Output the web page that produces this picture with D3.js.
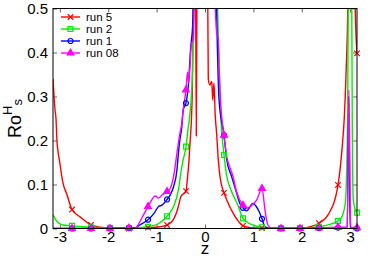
<!DOCTYPE html>
<html lang="en">
<head>
    <meta charset="UTF-8">
    <title>Ro^H_s vs z</title>
    <script src="https://d3js.org/d3.v7.min.js"></script>
    <style>
        body { margin: 0; background: #fff; }
        svg { display: block; font-family: "Liberation Sans", Arial, sans-serif; }
    </style>
</head>
<body>
    <svg id="chart" width="370" height="257"></svg>

    <script>
        // series names + colours
        const seriesNames = ["run 5", "run 2", "run 1", "run 08"];
        const seriesColors = ["#ff0000", "#00ee00", "#0000ff", "#ff00ff"];

        // marker positions (every pi/8)
        const markerZ = [-2.749, -2.356, -1.963, -1.571, -1.178, -0.785, -0.393, 0,
                         0.393, 0.785, 1.178, 1.571, 1.963, 2.356, 2.749, 3.142];

        const run5Marks = [0.043, 0.008, 0.001, 0.0, 0.002, 0.008, 0.085, 1.0,
                           0.081, 0.006, 0.001, 0.0, 0.001, 0.012, 0.099, 0.398];
        const run2Marks = [0.006, 0.003, 0.001, 0.001, 0.004, 0.028, 0.186, 1.0,
                           0.167, 0.023, 0.003, 0.001, 0.001, 0.004, 0.017, 0.036];
        const run1Marks = [0.0, 0.0, 0.0, 0.001, 0.02, 0.066, 0.285, 1.0,
                           0.212, 0.047, 0.022, 0.0, 0.0, 0.001, 0.002, 0.0];
        const run08Marks = [0.0, 0.0, 0.0, 0.001, 0.05, 0.084, 0.315, 1.0,
                            0.212, 0.053, 0.091, 0.0, 0.0, 0.001, 0.003, 0.002];

        // extra line points between markers [z, value]
        const run5Line = [[-3.1416, 0.34], [-3.10, 0.27], [-3.08, 0.25], [-3.06, 0.2], [-3.0, 0.149],
            [-2.94, 0.106], [-2.85, 0.076], [-2.59, 0.027], [-2.17, 0.003], [-1.4, 0.001],
            [-0.93, 0.004], [-0.66, 0.019], [-0.55, 0.05], [-0.5, 0.072], [-0.36, 0.118],
            [-0.33, 0.156], [-0.31, 0.194], [-0.28, 0.25], [-0.26, 0.33], [-0.245, 0.5],
            [-0.22, 0.8], [-0.195, 0.6], [-0.18, 0.21], [-0.165, 0.6], [-0.15, 0.9],
            [0.045, 0.9], [0.058, 0.5], [0.068, 0.34], [0.10, 0.326], [0.14, 0.334],
            [0.16, 0.292], [0.185, 0.33], [0.21, 0.26], [0.24, 0.216], [0.275, 0.156],
            [0.31, 0.118], [0.45, 0.065], [0.58, 0.035], [0.70, 0.015], [0.95, 0.002],
            [2.2, 0.005], [2.55, 0.032], [2.83, 0.178], [2.88, 0.254], [2.92, 0.368],
            [2.95, 0.5], [2.98, 0.9], [3.08, 0.9], [3.105, 0.5]];
        const run2Line = [[-3.1416, 0.031], [-3.06, 0.016], [-2.94, 0.008], [-2.1, 0.002],
            [-0.95, 0.012], [-0.65, 0.05], [-0.55, 0.087], [-0.49, 0.133], [-0.45, 0.156],
            [-0.345, 0.231], [-0.31, 0.262], [-0.255, 0.368], [-0.235, 0.6], [-0.15, 1.0],
            [0.15, 1.0], [0.26, 0.5], [0.32, 0.27], [0.44, 0.125], [0.54, 0.087], [0.68, 0.053],
            [0.98, 0.008], [2.6, 0.01], [2.83, 0.027], [2.90, 0.058], [2.93, 0.14], [2.95, 0.29],
            [2.965, 0.6], [2.99, 1.0], [3.03, 0.6], [3.045, 0.216], [3.065, 0.065], [3.10, 0.045]];
        const run1Line = [[-3.1416, 0.0], [-1.45, 0.001], [-1.35, 0.008], [-1.05, 0.035],
            [-0.96, 0.05], [-0.89, 0.053], [-0.72, 0.076], [-0.65, 0.095], [-0.58, 0.133],
            [-0.55, 0.171], [-0.52, 0.201], [-0.48, 0.231], [-0.45, 0.27], [-0.34, 0.33],
            [-0.30, 0.405], [-0.25, 0.474], [-0.22, 0.6], [-0.15, 1.0], [0.15, 1.0], [0.22, 0.6],
            [0.29, 0.292], [0.45, 0.156], [0.55, 0.118], [0.655, 0.08], [0.72, 0.057],
            [0.86, 0.04], [0.99, 0.057], [1.06, 0.05], [1.12, 0.038], [1.24, 0.004],
            [1.35, 0.0], [2.94, 0.002], [2.97, 0.3], [3.0, 0.002]];
        const run08Line = [[-3.1416, 0.0], [-1.45, 0.0], [-1.40, 0.005], [-1.30, 0.025],
            [-1.10, 0.065], [-1.03, 0.074], [-0.96, 0.069], [-0.89, 0.076], [-0.72, 0.091],
            [-0.65, 0.118], [-0.58, 0.171], [-0.53, 0.209], [-0.48, 0.239], [-0.45, 0.27],
            [-0.36, 0.356], [-0.34, 0.33], [-0.31, 0.368], [-0.28, 0.42], [-0.24, 0.43],
            [-0.21, 0.6], [-0.15, 1.0], [0.15, 1.0], [0.19, 0.6], [0.23, 0.46], [0.245, 0.44],
            [0.27, 0.44], [0.29, 0.368], [0.32, 0.292], [0.45, 0.163], [0.52, 0.137],
            [0.56, 0.125], [0.58, 0.118], [0.65, 0.084], [0.86, 0.046], [0.97, 0.053],
            [1.07, 0.065], [1.24, 0.042], [1.30, 0.008], [1.37, 0.001], [2.94, 0.003],
            [2.975, 0.315], [3.01, 0.003]];

        const yTicks = [0, 0.1, 0.2, 0.3, 0.4, 0.5];
        const xTicks = [-3, -2, -1, 0, 1, 2, 3];

        const allMarks = [run5Marks, run2Marks, run1Marks, run08Marks];
        const allLines = [run5Line, run2Line, run1Line, run08Line];
        const symbols = [d3.symbolX, d3.symbolSquare, d3.symbolCircle, d3.symbolTriangle];
        const symSizes = [22, 24, 20, 20];

        const series = seriesNames.map((name, i) => {
            const marks = markerZ.map((z, k) => [z, allMarks[i][k]]);
            const pts = allLines[i].concat(marks).sort((a, b) => a[0] - b[0]);
            return { name, color: seriesColors[i], marks, pts, symbol: symbols[i], size: symSizes[i], filled: i === 3 };
        });

        const svg = d3.select("#chart");
        const pLeft = 53, pRight = 357, pTop = 8.5, pBottom = 228.5;

        const x = d3.scaleLinear().domain([-Math.PI, Math.PI]).range([pLeft, pRight]);
        const y = d3.scaleLinear().domain([0, 0.5]).range([pBottom, pTop]);

        svg.append("defs").append("clipPath").attr("id", "clip")
            .append("rect")
            .attr("x", pLeft).attr("y", pTop)
            .attr("width", pRight - pLeft).attr("height", pBottom - pTop);

        // axes (inward ticks, gnuplot style)
        const fmtY = d => d === 0 ? "0" : d3.format(".1f")(d);
        const fmtX = d => String(d);

        const gx = svg.append("g")
            .attr("transform", `translate(0,${pBottom})`)
            .call(d3.axisBottom(x).tickValues(xTicks).tickFormat(fmtX).tickSizeInner(-4).tickSizeOuter(0).tickPadding(2.5));
        const gy = svg.append("g")
            .attr("transform", `translate(${pLeft},0)`)
            .call(d3.axisLeft(y).tickValues(yTicks).tickFormat(fmtY).tickSizeInner(-4).tickSizeOuter(0).tickPadding(5));
        const gt = svg.append("g")
            .attr("transform", `translate(0,${pTop})`)
            .call(d3.axisTop(x).tickValues(xTicks).tickFormat("").tickSizeInner(-4).tickSizeOuter(0));
        const gr = svg.append("g")
            .attr("transform", `translate(${pRight},0)`)
            .call(d3.axisRight(y).tickValues(yTicks).tickFormat("").tickSizeInner(-4).tickSizeOuter(0));

        [gx, gy, gt, gr].forEach(g => {
            g.select(".domain").remove();
            g.selectAll(".tick line").attr("stroke", "#666");
            g.selectAll(".tick text").attr("font-size", 15).attr("fill", "#000")
                .attr("font-family", "Liberation Sans, Arial, sans-serif");
        });

        // curves
        const line = d3.line()
            .x(d => x(d[0]))
            .y(d => y(d[1]))
            .curve(d3.curveMonotoneX);

        const plot = svg.append("g").attr("clip-path", "url(#clip)");
        series.forEach(s => {
            plot.append("path")
                .datum(s.pts)
                .attr("fill", "none")
                .attr("stroke", s.color)
                .attr("stroke-width", 1.4)
                .attr("stroke-linejoin", "round")
                .attr("d", line);
        });

        series.forEach(s => {
            svg.append("g").selectAll("path")
                .data(s.marks.filter(d => d[1] <= 0.5))
                .join("path")
                .attr("transform", d => `translate(${x(d[0])},${y(d[1])})`)
                .attr("d", d3.symbol(s.symbol, s.size))
                .attr("fill", s.filled ? s.color : "none")
                .attr("stroke", s.color)
                .attr("stroke-width", 1.2);
        });

        // frame
        svg.append("rect")
            .attr("x", pLeft).attr("y", pTop)
            .attr("width", pRight - pLeft).attr("height", pBottom - pTop)
            .attr("fill", "none").attr("stroke", "#000").attr("stroke-width", 1);

        // legend
        const legend = svg.append("g").attr("transform", "translate(61,17)");
        series.forEach((s, i) => {
            const row = legend.append("g").attr("transform", `translate(0,${i * 12})`);
            row.append("line").attr("x1", 0).attr("x2", 19).attr("y1", 0).attr("y2", 0)
                .attr("stroke", s.color).attr("stroke-width", 1.4);
            row.append("path").attr("transform", "translate(9.5,0)")
                .attr("d", d3.symbol(s.symbol, s.size))
                .attr("fill", s.filled ? s.color : "none")
                .attr("stroke", s.color).attr("stroke-width", 1.2);
            row.append("text").attr("x", 25).attr("dy", "0.35em")
                .attr("font-size", 11.5).text(s.name);
        });

        // axis labels
        svg.append("text")
            .attr("x", (pLeft + pRight) / 2).attr("y", 253.5)
            .attr("text-anchor", "middle").attr("font-size", 17).text("z");

        const ylab = svg.append("text")
            .attr("transform", "translate(21,138) rotate(-90)")
            .attr("font-size", 18);
        ylab.append("tspan").text("Ro");
        ylab.append("tspan").attr("font-size", 13).attr("dy", -9).text("H");
        ylab.append("tspan").attr("font-size", 13).attr("dy", 10).text("s");
    </script>
</body>
</html>
